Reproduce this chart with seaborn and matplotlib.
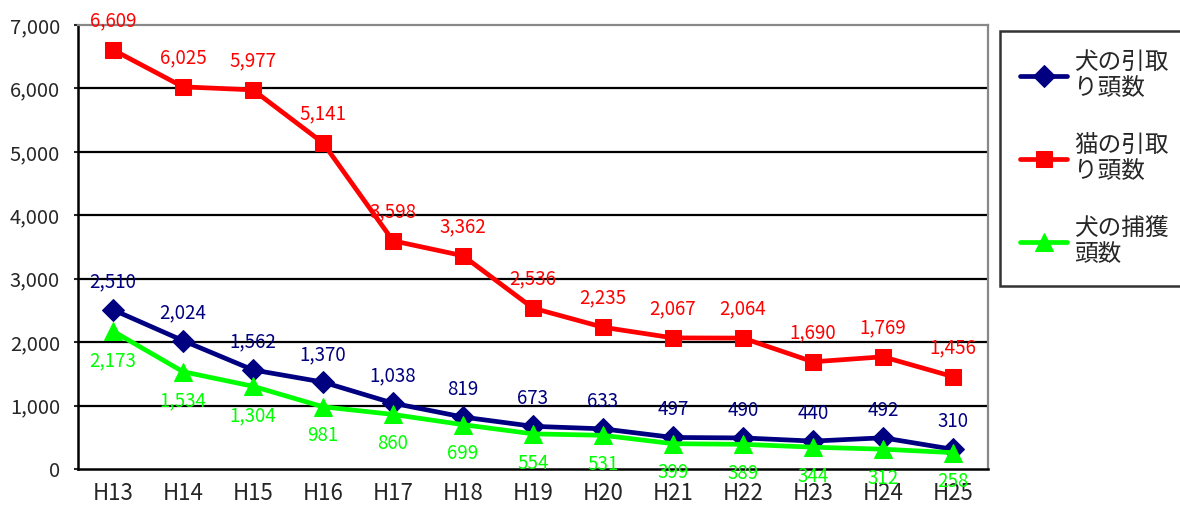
import pandas as pd
import matplotlib.pyplot as plt
import seaborn as sns
import numpy as np

# Datos
years = ['H13', 'H14', 'H15', 'H16', 'H17', 'H18', 'H19', 'H20', 'H21', 'H22', 'H23', 'H24', 'H25']
dog_taken = [2510, 2024, 1562, 1370, 1038, 819, 673, 633, 497, 490, 440, 492, 310]
cat_taken = [6609, 6025, 5977, 5141, 3598, 3362, 2536, 2235, 2067, 2064, 1690, 1769, 1456]
dog_caught = [2173, 1534, 1304, 981, 860, 699, 554, 531, 399, 389, 344, 312, 258]
series_names = ['犬の引取\nり頭数', '猫の引取\nり頭数', '犬の捕獲\n頭数']

sns.set_style("white")
plt.rcParams['font.family'] = ['Noto Sans CJK JP', 'DejaVu Sans']

fig = plt.figure(figsize=(11.8, 5.11), dpi=100)
ax = fig.add_axes([78/1180, 42/511, 910/1180, 444/511])

x = np.arange(len(years))
estilos = [
    (dog_taken, '#000080', 'D', 11, 20),
    (cat_taken, '#FF0000', 's', 11, 21),
    (dog_caught, '#00FF00', '^', 13, -21),
]
for (vals, color, marker, ms, off), name in zip(estilos, series_names):
    df = pd.DataFrame({'x': x, 'y': vals})
    sns.lineplot(ax=ax, data=df, x='x', y='y', color=color, marker=marker,
                 markersize=ms, markeredgecolor=color, linewidth=3.4, label=name)
    for xi, v in zip(x, vals):
        ax.annotate(f'{v:,}', (xi, v), xytext=(0, off), textcoords='offset points',
                    ha='center', va='center', color=color, fontsize=13.5)

ax.set_xlim(-0.5, len(years) - 0.5)
ax.set_ylim(0, 7000)
ax.set_yticks(range(0, 7001, 1000))
ax.set_yticklabels([f'{v:,}' for v in range(0, 7001, 1000)], fontsize=14.5)
ax.set_xticks(x)
ax.set_xticklabels(years, fontsize=16)
ax.set_xticks(x[:-1] + 0.5, minor=True)
ax.tick_params(axis='x', which='major', length=0, pad=9)
ax.tick_params(axis='x', which='minor', direction='in', length=5, width=1.5, color='black')
ax.tick_params(axis='y', direction='out', length=3, width=1.5, pad=10, left=True)
ax.set_xlabel('')
ax.set_ylabel('')
for v in range(1000, 7000, 1000):
    ax.axhline(v, color='black', linewidth=1.6, zorder=0.5)

ax.spines['left'].set_color('black')
ax.spines['left'].set_linewidth(1.8)
ax.spines['bottom'].set_color('black')
ax.spines['bottom'].set_linewidth(1.8)
ax.spines['top'].set_color('#888888')
ax.spines['top'].set_linewidth(1.6)
ax.spines['right'].set_color('#888888')
ax.spines['right'].set_linewidth(1.6)

leg = ax.legend(loc='upper left', bbox_to_anchor=(1000/910 - 78/910, 1.0 - 6/444),
                frameon=True, fancybox=False, fontsize=17, handlelength=2.0,
                labelspacing=1.45, borderpad=0.85, handletextpad=0.3, borderaxespad=0)
leg.get_frame().set_edgecolor('black')
leg.get_frame().set_linewidth(1.8)
for t in leg.get_texts():
    t.set_linespacing(1.15)

fig.savefig('out.png', dpi=100)
